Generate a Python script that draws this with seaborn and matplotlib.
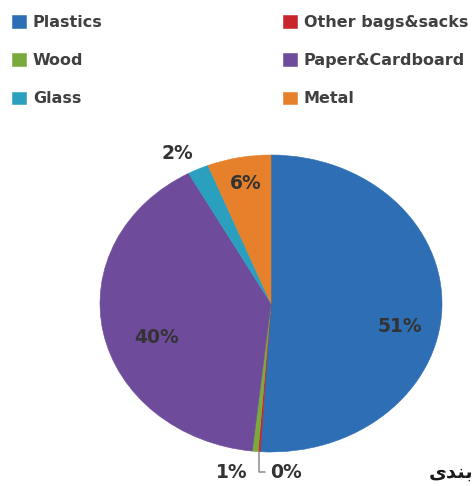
import matplotlib
matplotlib.use("Agg")
import matplotlib.pyplot as plt
import numpy as np
import seaborn as sns

# Waste composition by material (share of total, %)
categories = ["Plastics", "Other bags&sacks", "Wood", "Paper&Cardboard", "Glass", "Metal"]
shares = [51.0, 0.2, 0.55, 40.25, 2.0, 6.0]
colors = ["#2D6EB4", "#C8242C", "#7AAA3C", "#6E4B9B", "#2AA0BE", "#E6802A"]

# Legend is laid out in two columns, filled column by column
legend_order = [0, 2, 4, 1, 3, 5]

# Where each percentage label sits (data coords of the unit pie)
label_xy = [(0.754, -0.155), (0.085, -1.138), (-0.228, -1.138),
            (-0.667, -0.229), (-0.55, 1.01), (-0.146, 0.808)]

sns.set_theme(style="white")
plt.rcParams["font.family"] = ["DejaVu Sans"]
palette = sns.color_palette(colors)

fig = plt.figure(figsize=(4.75, 4.86), dpi=100)
W, H = 475, 486
# Axes box covers the (slightly stretched) pie
ax = fig.add_axes([100 / W, (H - 452) / H, 342 / W, 297 / H])

wedges, _ = ax.pie(shares, colors=palette, startangle=90, counterclock=False,
                   radius=1.0, wedgeprops=dict(linewidth=0.4))
for w in wedges:
    w.set_edgecolor(w.get_facecolor())
ax.set_aspect("auto")
ax.set_xlim(-1, 1)
ax.set_ylim(-1, 1)
ax.axis("off")

total = float(sum(shares))
pcts = [v / total * 100 for v in shares]
text_color = "#333333"
label_size = 13.5

for i, (p, (tx, ty)) in enumerate(zip(pcts, label_xy)):
    label = "%.0f%%" % p
    if categories[i] == "Other bags&sacks":
        # leader line from the rim of the sliver down to its label
        start = 90 - (sum(pcts[:i]) + p / 2) * 3.6
        ex, ey = np.cos(np.radians(start)), np.sin(np.radians(start))
        ax.annotate(label, xy=(ex, ey), xytext=(tx, ty), ha="center", va="center",
                    fontsize=label_size, fontweight="bold", color=text_color,
                    annotation_clip=False,
                    arrowprops=dict(arrowstyle="-", color="#8c8c8c", lw=1.1,
                                    shrinkA=1, shrinkB=0,
                                    connectionstyle="angle,angleA=180,angleB=90,rad=0"))
    else:
        ax.text(tx, ty, label, ha="center", va="center", fontsize=label_size,
                fontweight="bold", color=text_color)

handles = [wedges[i] for i in legend_order]
labels = [categories[i] for i in legend_order]
leg = fig.legend(handles, labels, ncol=2, loc="upper left",
                 bbox_to_anchor=(12 / W, 1 - 15 / H), frameon=False,
                 fontsize=11.5, handlelength=0.85, handleheight=0.8,
                 handletextpad=0.45, labelspacing=1.45, columnspacing=11.3,
                 borderpad=0, borderaxespad=0)
for t in leg.get_texts():
    t.set_color("#404040")
    t.set_fontweight("bold")

# Persian word at the lower right edge
fig.text(473 / W, 1 - 472 / H, "\uFBFC\uFEAA\uFEE8\uFE91", ha="right", va="center",
         fontsize=14, fontweight="bold", color="#1a1a1a")

fig.savefig("out.png", dpi=100, facecolor="white")
